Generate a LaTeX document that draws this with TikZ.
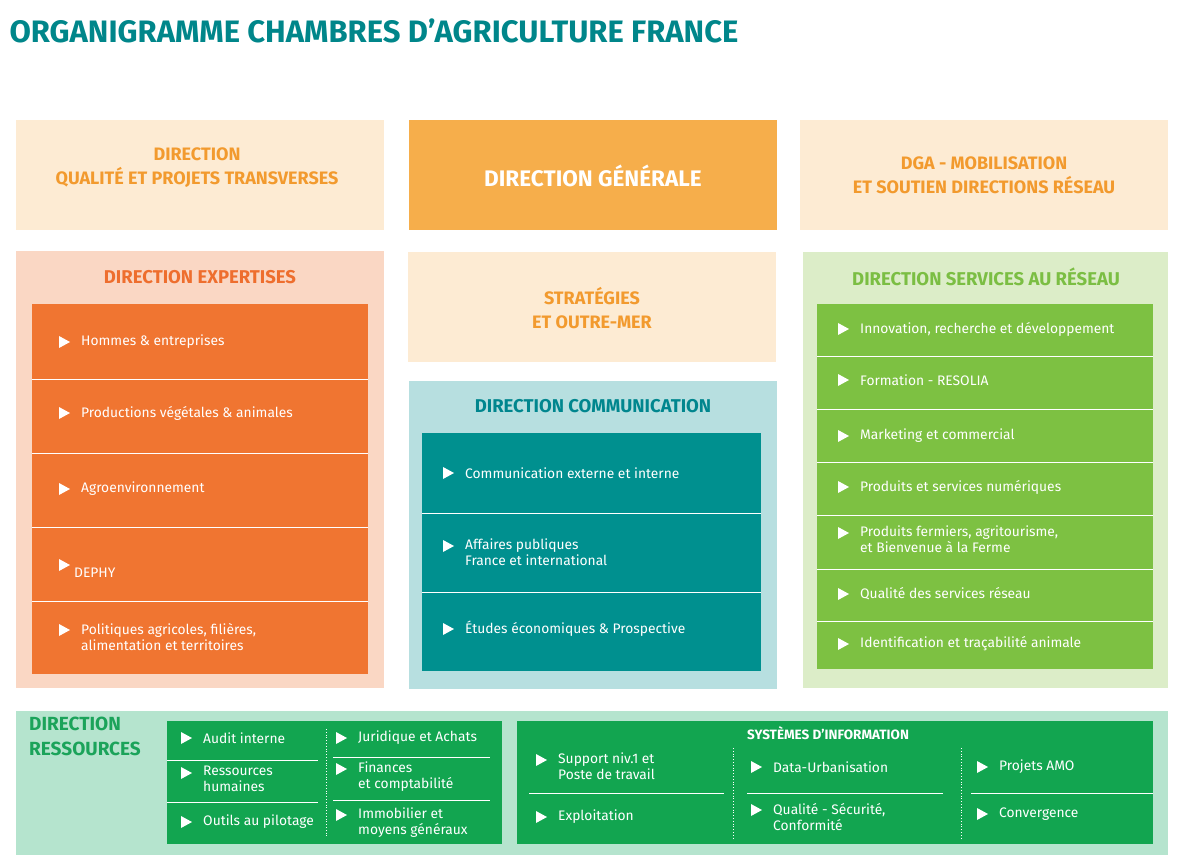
\documentclass[tikz,border=0pt]{standalone}
\usepackage{fontspec}
\setmainfont{Fira Sans}
\definecolor{teal}{HTML}{00868A}
\definecolor{peach}{HTML}{FDEBD3}
\definecolor{peachtxt}{HTML}{F29A2E}
\definecolor{dgor}{HTML}{F6AE4B}
\definecolor{expbg}{HTML}{FAD7C4}
\definecolor{exptxt}{HTML}{EE6E2E}
\definecolor{expin}{HTML}{F07531}
\definecolor{combg}{HTML}{B7DFE0}
\definecolor{comtxt}{HTML}{00868E}
\definecolor{comin}{HTML}{00908F}
\definecolor{serbg}{HTML}{DCEDC8}
\definecolor{sertxt}{HTML}{7BBE43}
\definecolor{serin}{HTML}{7DC142}
\definecolor{resbg}{HTML}{B5E4CE}
\definecolor{restxt}{HTML}{1BA35A}
\definecolor{resin}{HTML}{12A550}
\tikzset{
 hdr/.style={font=\bfseries\fontsize{18.5}{22}\selectfont,align=center},
 itxt/.style={text=white,font=\fontsize{13.8}{16}\selectfont,align=left,inner sep=0pt},
 sep/.style={white,line width=1pt},
 dsep/.style={white,line width=0.8pt,dotted}
}
\newcommand{\itm}[4]{% name, x, y, text (single line centred at y)
 \fill[white] (#2-5,#3-6)--(#2-5,#3+6)--(#2+6,#3)--cycle;
 \node[itxt,anchor=west] (#1) at (#2+17,#3) {#4};}
\newcommand{\itmm}[4]{% two-line, y = first line centre
 \fill[white] (#2-5,#3-6)--(#2-5,#3+6)--(#2+6,#3)--cycle;
 \node[itxt,anchor=north west] (#1) at (#2+17,#3-7) {#4};}
\begin{document}
\begin{tikzpicture}[x=1pt,y=-1pt]
\useasboundingbox (0,0) rectangle (1188,858);
\node[anchor=west,text=teal,font=\bfseries\fontsize{31}{36}\selectfont] (title) at (6,31) {ORGANIGRAMME CHAMBRES D'AGRICULTURE FRANCE};
% top row
\fill[peach] (16,120) rectangle (384,230);
\node[hdr,text=peachtxt,font=\bfseries\fontsize{18}{24}\selectfont] (qual) at (197,168) {DIRECTION\\QUALITÉ ET PROJETS TRANSVERSES};
\fill[dgor] (409,120) rectangle (777,230);
\node[hdr,text=white,font=\bfseries\fontsize{22.5}{26}\selectfont] (dg) at (593,176) {DIRECTION GÉNÉRALE};
\fill[peach] (800,120) rectangle (1168,230);
\node[hdr,text=peachtxt,font=\bfseries\fontsize{18}{24}\selectfont] (dga) at (984,175) {DGA - MOBILISATION\\ET SOUTIEN DIRECTIONS RÉSEAU};
% Expertises
\fill[expbg] (16,251) rectangle (384,688);
\node[hdr,text=exptxt] (exph) at (200,277) {DIRECTION EXPERTISES};
\fill[expin] (32,304) rectangle (368,674);
\foreach \y in {379,453,527,601} \draw[sep] (32,\y)--(368,\y);
\itm{e1}{64}{342}{Hommes \& entreprises}
\itm{e2}{64}{413}{Productions végétales \& animales}
\itm{e3}{64}{489}{Agroenvironnement}
\fill[white] (59,559)--(59,571)--(70,565)--cycle;
\node[itxt,anchor=west] (e4) at (74,573) {DEPHY};
\itmm{e5}{64}{630}{Politiques agricoles, filières,\\alimentation et territoires}
% Strategies
\fill[peach] (408,252) rectangle (776,362);
\node[hdr,text=peachtxt,font=\bfseries\fontsize{18}{24}\selectfont] (strat) at (592,308) {STRATÉGIES\\ET OUTRE-MER};
% Communication
\fill[combg] (409,381) rectangle (777,689);
\node[hdr,text=comtxt] (comh) at (593,406) {DIRECTION COMMUNICATION};
\fill[comin] (422,433) rectangle (761,671);
\foreach \y in {513,592} \draw[sep] (422,\y)--(761,\y);
\itm{c1}{448}{473}{Communication externe et interne}
\itmm{c2}{448}{546}{Affaires publiques\\France et international}
\itm{c3}{448}{629}{Études économiques \& Prospective}
% Services
\fill[serbg] (803,252) rectangle (1168,688);
\node[hdr,text=sertxt] (serh) at (986,277) {DIRECTION SERVICES AU RÉSEAU};
\fill[serin] (817,304) rectangle (1153,669);
\foreach \y in {356,409,462,515,569,621} \draw[sep] (817,\y)--(1153,\y);
\itm{s1}{843}{329}{Innovation, recherche et développement}
\itm{s2}{843}{380}{Formation - RESOLIA}
\itm{s3}{843}{436}{Marketing et commercial}
\itm{s4}{843}{487}{Produits et services numériques}
\itmm{s5}{843}{533}{Produits fermiers, agritourisme,\\et Bienvenue à la Ferme}
\itm{s6}{843}{594}{Qualité des services réseau}
\itm{s7}{843}{644}{Identification et traçabilité animale}
% Ressources
\fill[resbg] (16,711) rectangle (1168,855);
\node[anchor=north west,text=restxt,font=\bfseries\fontsize{19}{25}\selectfont,align=left,inner sep=0pt] (resh) at (29,717) {DIRECTION\\RESSOURCES};
\fill[resin] (167,721) rectangle (502,844);
\draw[sep] (167,760)--(318,760); \draw[sep] (167,802)--(318,802);
\draw[sep] (333,757)--(490,757); \draw[sep] (333,800)--(490,800);
\draw[dsep] (326,729)--(326,838);
\itm{r1}{186}{738}{Audit interne}
\itmm{r2}{186}{773}{Ressources\\humaines}
\itm{r3}{186}{822}{Outils au pilotage}
\itm{r4}{341}{738}{Juridique et Achats}
\itmm{r5}{341}{769}{Finances\\et comptabilité}
\itmm{r6}{341}{815}{Immobilier et\\moyens généraux}
\fill[resin] (517,721) rectangle (1153,844);
\node[text=white,font=\bfseries\fontsize{13.5}{16}\selectfont] (sih) at (828,733) {SYSTÈMES D'INFORMATION};
\draw[dsep] (733,748)--(733,838); \draw[dsep] (961,748)--(961,838);
\draw[sep] (529,793)--(724,793); \draw[sep] (747,793)--(943,793); \draw[sep] (971,793)--(1153,793);
\itmm{i1}{541}{760}{Support niv.1 et\\Poste de travail}
\itm{i2}{541}{817}{Exploitation}
\itm{i3}{756}{767}{Data-Urbanisation}
\itmm{i4}{756}{810}{Qualité - Sécurité,\\Conformité}
\itm{i5}{982}{767}{Projets AMO}
\itm{i6}{982}{814}{Convergence}
\end{tikzpicture}
\end{document}
